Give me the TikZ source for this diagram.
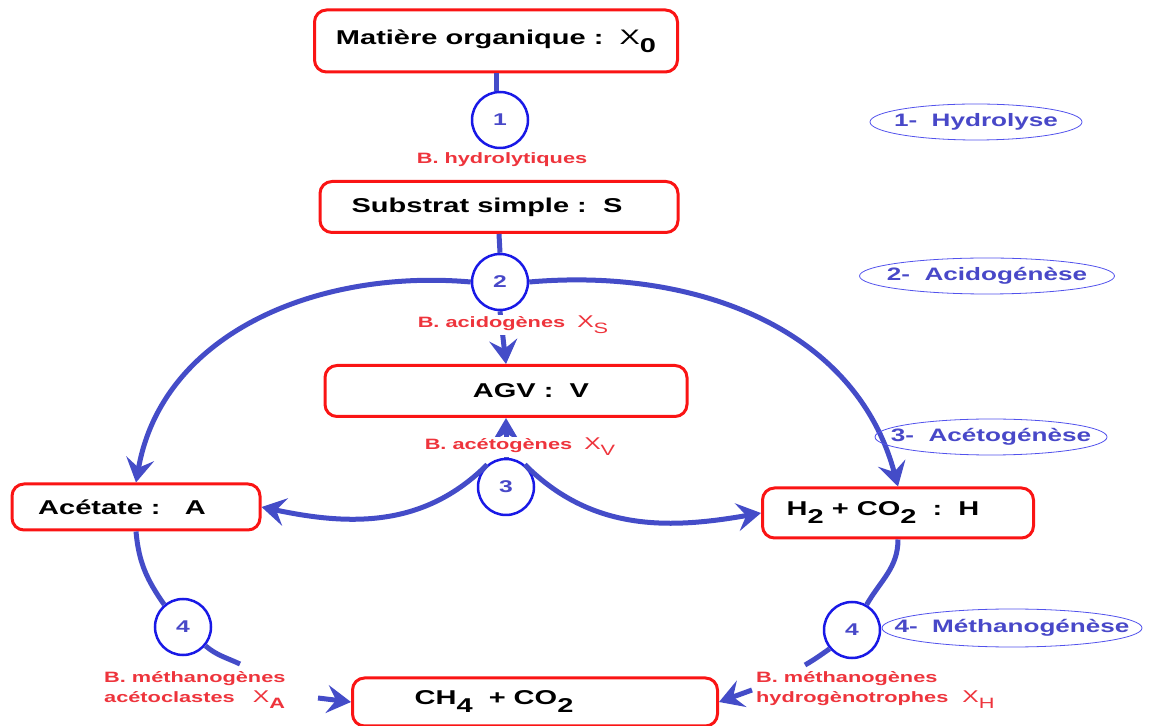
\documentclass[tikz,border=0pt]{standalone}
\usepackage{fontspec}
\setmainfont{Liberation Sans}[FakeStretch=1.45]
\usetikzlibrary{arrows.meta,shapes.geometric}
\definecolor{boxred}{RGB}{250,20,20}
\definecolor{arrblue}{RGB}{68,76,200}
\definecolor{ringblue}{RGB}{25,25,230}
\definecolor{labred}{RGB}{238,52,60}
\definecolor{phaseblue}{RGB}{72,72,200}
\newcommand{\lowr}[1]{\raisebox{-0.4em}{#1}}
\tikzset{
	box/.style={draw=boxred, line width=3pt, rounded corners=12pt, fill=white, inner sep=0pt, font=\bfseries\fontsize{20}{24}\selectfont},
	ring/.style={circle, draw=ringblue, line width=2.5pt, fill=white, minimum size=56pt, inner sep=0pt, text=phaseblue, font=\bfseries\fontsize{17}{20}\selectfont},
	bact/.style={text=labred, fill=white, inner sep=1pt, font=\bfseries\fontsize{15}{20}\selectfont},
	phase/.style={ellipse, draw=ringblue!75, line width=0.8pt, inner xsep=-30pt, inner ysep=0pt, text=phaseblue, font=\bfseries\fontsize{18}{20}\selectfont},
	flow/.style={draw=arrblue, line width=5pt},
	arr/.style={flow, -{Stealth[length=24pt,width=28pt,inset=9pt]}}
}

\begin{document}
\begin{tikzpicture}[x=1pt,y=1pt]
			%%%%% START %%%%%
			\useasboundingbox (0,0) rectangle (1160,726);
			
			\node[box, minimum width=363pt, minimum height=62pt] (org) at (496,685) {Matière organique :\ \ {\mdseries\fontsize{21}{24}\selectfont X}\lowr{0}};
			\node[box, minimum width=358pt, minimum height=51pt] (subs) at (499,519) {Substrat simple :\ \ S\hspace*{24pt}};
			\node[box, minimum width=362pt, minimum height=51pt] (agv) at (506,335) {\hspace*{50pt}AGV :\ \ V};
			\node[box, minimum width=248pt, minimum height=46pt] (ace) at (136,219) {Acétate :\ \ \ A\hspace*{28pt}};
			\node[box, minimum width=271pt, minimum height=50pt] (hyd) at (898,213) {H\lowr{2}\ + CO\lowr{2}\ \ :\ \ H\hspace*{30pt}};
			\node[box, minimum width=365pt, minimum height=48pt] (meth) at (535,24) {CH\lowr{4}\ \ + CO\lowr{2}\hspace*{82pt}};
			
			\node[ring] (c1) at (500,606) {1};
			\node[ring] (c2) at (500,444) {2};
			\node[ring] (c3) at (506,239) {3};
			\node[ring] (c4a) at (183,99) {4};
			\node[ring] (c4h) at (852,96) {4};
			
			\coordinate (tA) at (240,62);
			\coordinate (sA) at (318,28);
			\coordinate (tH) at (805,61);
			\coordinate (sH) at (752,36);
			
			% main line
			\draw[flow] (org.south) -- (org.south |- c1.north);
			\draw[flow] (subs.south) -- (c2.north);
			\draw[arr] (c2.south) -- (agv.north);
			\draw[arr] (c3.north) -- (agv.south);
			
			% big arcs and acetogenesis
			\draw[arr] (c2.west) to[out=175,in=80] (ace.north);
			\draw[arr] (c2.east) to[out=5,in=105] (hyd.north);
			\draw[arr] (c3.130) to[out=225,in=-12] (ace.east);
			\draw[arr] (c3.50) to[out=-45,in=190] (hyd.west);
			
			% methanogenesis
			\draw[flow] (ace.south) to[out=-85,in=125] (c4a.130);
			\draw[flow] (c4a.-40) to[out=-40,in=155] (tA);
			\draw[arr] (sA) -- (meth.west);
			\draw[flow] (hyd.south) to[out=-90,in=60] (c4h.60);
			\draw[flow] (c4h.-140) to[out=-145,in=30] (tH);
			\draw[arr] (sH) -- (meth.east);
			
			% bacteria
			\node[bact] (b1) at (502,566) {B. hydrolytiques};
			\node[bact] (b2) at (513,401) {B. acidogènes\ \ {\mdseries\fontsize{17}{19}\selectfont X}\lowr{\mdseries S}};
			\node[bact] (b3) at (520,279) {B. acétogènes\ \ {\mdseries\fontsize{17}{19}\selectfont X}\lowr{\mdseries V}};
			\node[bact, anchor=west, align=left] (b4a) at (103,36) {B. méthanogènes\\acétoclastes\ \ \ {\mdseries\fontsize{17}{19}\selectfont X}\lowr{A}};
			\node[bact, anchor=west, align=left] (b4h) at (755,36) {B. méthanogènes\\hydrogènotrophes\hspace*{14pt}{\mdseries\fontsize{17}{19}\selectfont X}\lowr{\mdseries H}};
			
			% phases
			\node[phase, minimum width=212pt, minimum height=36pt] (e1) at (976,604) {1-\ \ Hydrolyse};
			\node[phase, minimum width=255pt, minimum height=36pt] (e2) at (987,450) {2-\ \ Acidogénèse};
			\node[phase, minimum width=232pt, minimum height=36pt] (e3) at (991,289) {3-\ \ Acétogénèse};
			\node[phase, minimum width=260pt, minimum height=38pt] (e4) at (1012,98) {4-\ \ Méthanogénèse};
			
			%%%%% END %%%%%
\end{tikzpicture}
\end{document}
